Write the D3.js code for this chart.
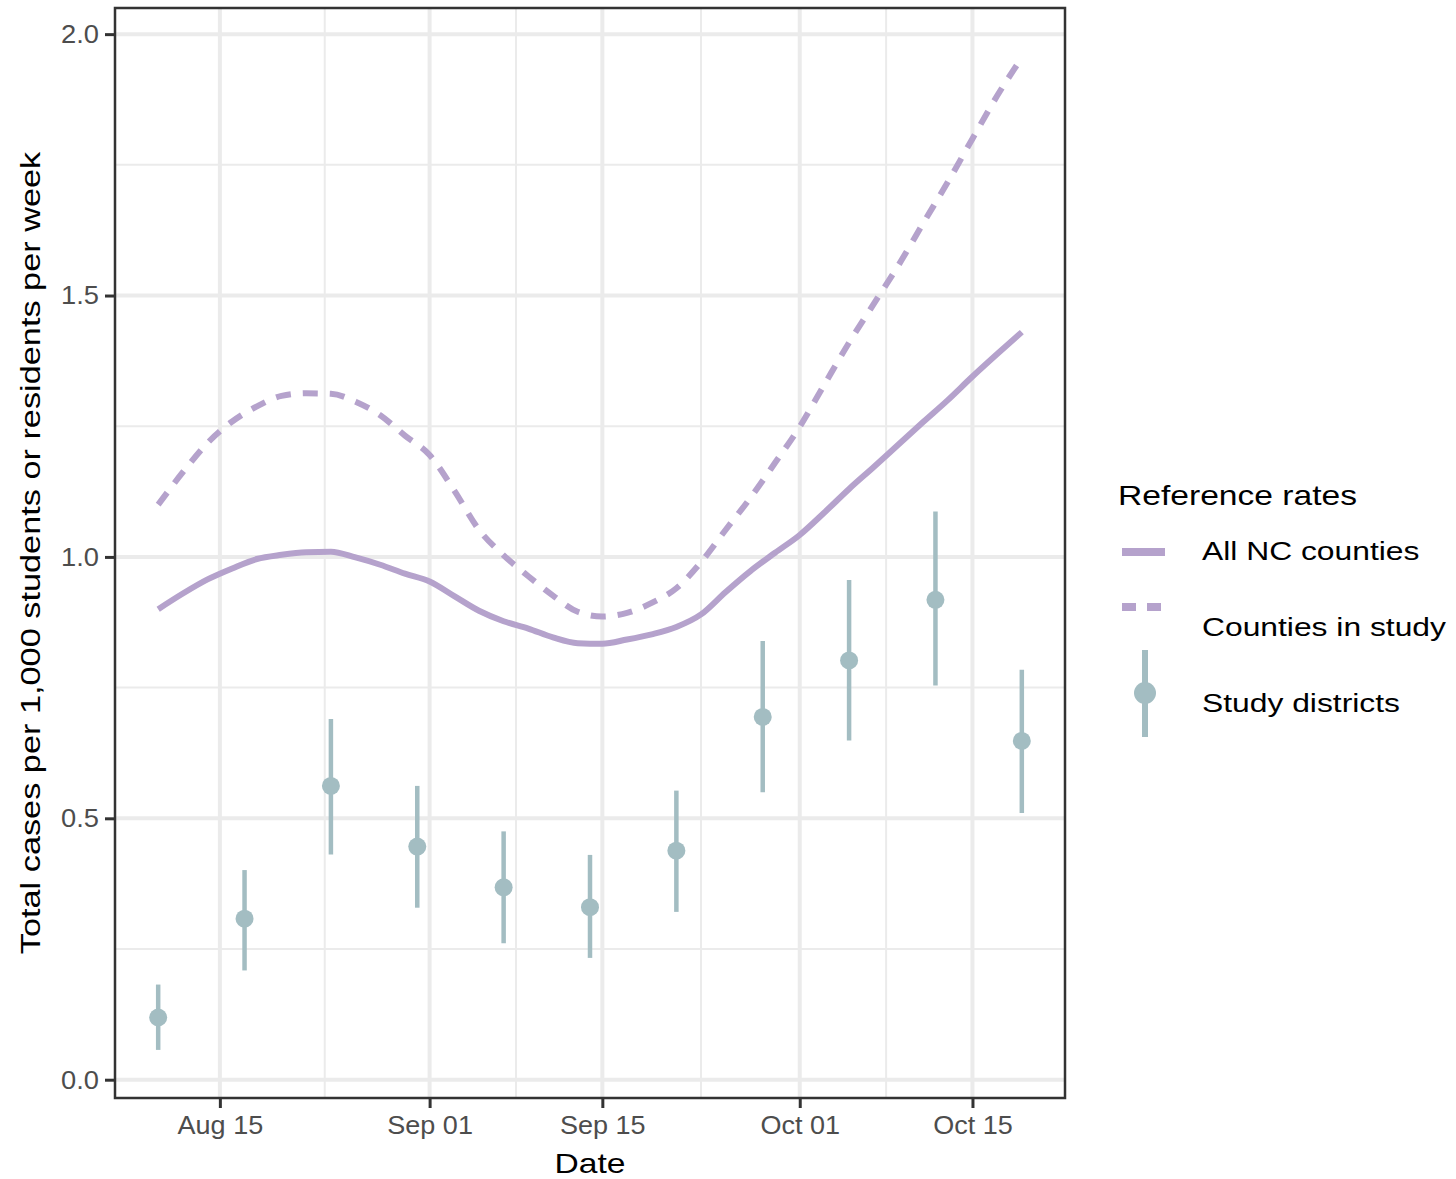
<!DOCTYPE html>
<html>
<head>
<meta charset="utf-8">
<script src="https://cdn.jsdelivr.net/npm/d3@7"></script>
<style>
  html, body { margin: 0; padding: 0; background: #fff; }
  svg { display: block; }
  text { font-family: "Liberation Sans", Arial, sans-serif; }
</style>
</head>
<body>
<svg id="chart" width="1456" height="1179"></svg>
<script>
// ---- data ----
const lineDates = ["2020-08-10","2020-08-12","2020-08-14","2020-08-16","2020-08-18","2020-08-20",
  "2020-08-22","2020-08-24","2020-08-26","2020-08-28","2020-08-30","2020-09-01","2020-09-03",
  "2020-09-05","2020-09-07","2020-09-09","2020-09-11","2020-09-13","2020-09-15","2020-09-17",
  "2020-09-19","2020-09-21","2020-09-23","2020-09-25","2020-09-27","2020-09-29","2020-10-01",
  "2020-10-03","2020-10-05","2020-10-07","2020-10-09","2020-10-11","2020-10-13","2020-10-15",
  "2020-10-17","2020-10-19"];
const allNCCounties = [0.900,0.930,0.957,0.978,0.996,1.004,1.009,1.010,0.999,0.985,0.968,0.953,
  0.925,0.897,0.877,0.863,0.846,0.835,0.834,0.842,0.852,0.866,0.890,0.933,0.973,1.008,1.042,
  1.085,1.130,1.172,1.215,1.258,1.300,1.345,1.388,1.430];
const countiesInStudy = [1.100,1.162,1.218,1.259,1.288,1.308,1.313,1.312,1.297,1.271,1.232,1.195,
  1.127,1.052,1.003,0.963,0.926,0.895,0.886,0.893,0.912,0.940,0.990,1.052,1.113,1.180,1.249,
  1.330,1.410,1.484,1.558,1.638,1.717,1.800,1.882,1.955];

const pointDates = ["2020-08-10","2020-08-17","2020-08-24","2020-08-31","2020-09-07","2020-09-14",
  "2020-09-21","2020-09-28","2020-10-05","2020-10-12","2020-10-19"];
const districtRate  = [0.119,0.308,0.562,0.446,0.368,0.330,0.438,0.694,0.802,0.918,0.648];
const districtLower = [0.057,0.209,0.431,0.329,0.261,0.233,0.321,0.550,0.649,0.754,0.510];
const districtUpper = [0.182,0.401,0.690,0.562,0.475,0.430,0.553,0.839,0.956,1.087,0.784];

const xTickDates = ["2020-08-15","2020-09-01","2020-09-15","2020-10-01","2020-10-15"];
const xMinorDates = ["2020-08-23T12:00","2020-09-08","2020-09-23","2020-10-08"];
const yTicks = [0.0, 0.5, 1.0, 1.5, 2.0];
const yMinor = [0.25, 0.75, 1.25, 1.75];

const legendTitle = "Reference rates";
const legendLabels = ["All NC counties", "Counties in study", "Study districts"];
const xTitle = "Date";
const yTitle = "Total cases per 1,000 students or residents per week";

// ---- layout ----
const P = { left: 115, right: 1065, top: 8, bottom: 1098 };
const lineColor = "#b5a2cc";
const pointColor = "#a3bdc2";
const gridColor = "#ebebeb";
const parse = s => new Date(s.length > 10 ? s + "Z" : s + "T00:00Z");

const svg = d3.select("#chart");

const xMin = parse(pointDates[0]), xMax = parse(pointDates[pointDates.length - 1]);
const span = xMax - xMin;
const x = d3.scaleUtc()
  .domain([new Date(+xMin - span * 0.05), new Date(+xMax + span * 0.05)])
  .range([P.left, P.right]);
const y = d3.scaleLinear().domain([-0.035, 2.05]).range([P.bottom, P.top]);

function stretch(sel, k) {
  sel.each(function () {
    const l = this.getComputedTextLength();
    this.setAttribute("textLength", l * k);
    this.setAttribute("lengthAdjust", "spacingAndGlyphs");
  });
}

// background
svg.append("rect").attr("x", P.left).attr("y", P.top)
  .attr("width", P.right - P.left).attr("height", P.bottom - P.top).attr("fill", "#fff");

// grid
const grid = svg.append("g");
grid.selectAll(".ymin").data(yMinor).join("line")
  .attr("x1", P.left).attr("x2", P.right)
  .attr("y1", d => y(d)).attr("y2", d => y(d))
  .attr("stroke", gridColor).attr("stroke-width", 2);
grid.selectAll(".xmin").data(xMinorDates).join("line")
  .attr("y1", P.top).attr("y2", P.bottom)
  .attr("x1", d => x(parse(d))).attr("x2", d => x(parse(d)))
  .attr("stroke", gridColor).attr("stroke-width", 2);
grid.selectAll(".ymaj").data(yTicks).join("line")
  .attr("x1", P.left).attr("x2", P.right)
  .attr("y1", d => y(d)).attr("y2", d => y(d))
  .attr("stroke", gridColor).attr("stroke-width", 4);
grid.selectAll(".xmaj").data(xTickDates).join("line")
  .attr("y1", P.top).attr("y2", P.bottom)
  .attr("x1", d => x(parse(d))).attr("x2", d => x(parse(d)))
  .attr("stroke", gridColor).attr("stroke-width", 4);

// error bars + points
const pts = pointDates.map((d, i) => ({ date: parse(d), v: districtRate[i], lo: districtLower[i], hi: districtUpper[i] }));
const marks = svg.append("g");
marks.selectAll(".err").data(pts).join("line")
  .attr("x1", d => x(d.date)).attr("x2", d => x(d.date))
  .attr("y1", d => y(d.lo)).attr("y2", d => y(d.hi))
  .attr("stroke", pointColor).attr("stroke-width", 4.5);
marks.selectAll(".pt").data(pts).join("circle")
  .attr("cx", d => x(d.date)).attr("cy", d => y(d.v)).attr("r", 9)
  .attr("fill", pointColor);

// lines
const lineGen = d3.line().x(d => x(d.date)).y(d => y(d.v)).curve(d3.curveMonotoneX);
const solidData = lineDates.map((d, i) => ({ date: parse(d), v: allNCCounties[i] }));
const dashData = lineDates.map((d, i) => ({ date: parse(d), v: countiesInStudy[i] }));
svg.append("path").datum(solidData).attr("d", lineGen)
  .attr("fill", "none").attr("stroke", lineColor).attr("stroke-width", 6);
svg.append("path").datum(dashData).attr("d", lineGen)
  .attr("fill", "none").attr("stroke", lineColor).attr("stroke-width", 6)
  .attr("stroke-dasharray", "15,12");

// panel border
svg.append("rect").attr("x", P.left).attr("y", P.top)
  .attr("width", P.right - P.left).attr("height", P.bottom - P.top)
  .attr("fill", "none").attr("stroke", "#333").attr("stroke-width", 2.5);

// axes
const xAxis = d3.axisBottom(x).tickValues(xTickDates.map(parse))
  .tickFormat(d3.utcFormat("%b %d")).tickSize(10).tickPadding(8);
const gx = svg.append("g").attr("transform", `translate(0,${P.bottom})`).call(xAxis);
gx.select(".domain").remove();
gx.selectAll(".tick line").attr("stroke", "#333").attr("stroke-width", 3);
gx.selectAll(".tick text").attr("fill", "#4d4d4d").style("font-size", "25px")
  .attr("dy", "0.72em");
stretch(gx.selectAll(".tick text"), 1.08);

const yAxis = d3.axisLeft(y).tickValues(yTicks).tickFormat(d3.format(".1f")).tickSize(10).tickPadding(6);
const gy = svg.append("g").attr("transform", `translate(${P.left},0)`).call(yAxis);
gy.select(".domain").remove();
gy.selectAll(".tick line").attr("stroke", "#333").attr("stroke-width", 3);
gy.selectAll(".tick text").attr("fill", "#4d4d4d").style("font-size", "26px");
stretch(gy.selectAll(".tick text"), 1.05);

// axis titles
const xt = svg.append("text").attr("x", (P.left + P.right) / 2).attr("y", 1173)
  .attr("text-anchor", "middle").attr("fill", "#000").style("font-size", "28px").text(xTitle);
stretch(xt, 1.2);
const yt = svg.append("text")
  .attr("transform", `translate(40,${(P.top + P.bottom) / 2}) rotate(-90)`)
  .attr("text-anchor", "middle").attr("fill", "#000").style("font-size", "27px").text(yTitle);
stretch(yt, 1.27);

// legend
const lg = svg.append("g");
const lt = lg.append("text").attr("x", 1118).attr("y", 505).attr("fill", "#000")
  .style("font-size", "28px").text(legendTitle);
stretch(lt, 1.2);
const labelY = [560, 636, 712];
legendLabels.forEach((t, i) => {
  const el = lg.append("text").attr("x", 1202).attr("y", labelY[i]).attr("fill", "#000")
    .style("font-size", "26.5px").text(t);
  stretch(el, 1.2);
});
lg.append("line").attr("x1", 1122).attr("x2", 1165).attr("y1", 552).attr("y2", 552)
  .attr("stroke", lineColor).attr("stroke-width", 8);
lg.append("line").attr("x1", 1122).attr("x2", 1165).attr("y1", 607).attr("y2", 607)
  .attr("stroke", lineColor).attr("stroke-width", 8).attr("stroke-dasharray", "14,11");
lg.append("line").attr("x1", 1145).attr("x2", 1145).attr("y1", 650).attr("y2", 737)
  .attr("stroke", pointColor).attr("stroke-width", 6);
lg.append("circle").attr("cx", 1145).attr("cy", 693).attr("r", 11).attr("fill", pointColor);
</script>
</body>
</html>
